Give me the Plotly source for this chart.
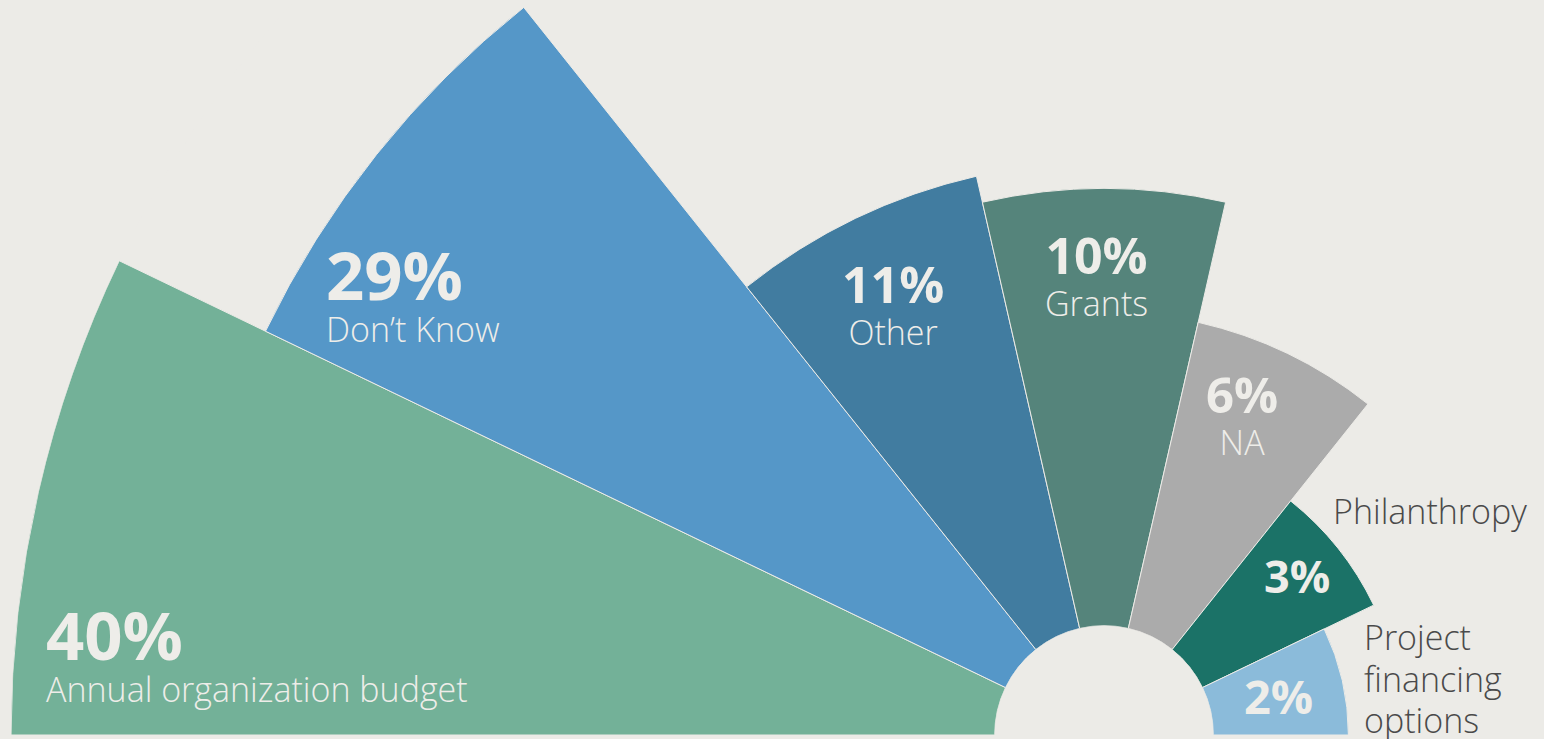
import numpy as np
import plotly.graph_objects as go

# Data
categories = ['Annual organization budget', 'Don’t Know', 'Other', 'Grants', 'NA',
              'Philanthropy', 'Project financing options']
shares = [40, 29, 11, 10, 6, 3, 2]
pct_labels = ['40%', '29%', '11%', '10%', '6%', '3%', '2%']
colors = ['#73B198', '#5597C8', '#417CA0', '#55847B', '#ABABAB', '#1B7267', '#8BBBDA']

bg = '#ECEBE7'
light = '#EEEDE9'
dark = '#4A4A4A'

# area-proportional wedges: radius ~ sqrt(share)
r_vals = np.sqrt(shares)
r_max = float(r_vals.max())
hole = 0.1

# figure is bigger than the window; the page is shifted so the centre sits at the bottom
R = 1093
ml, mr, mt, mb = 11, 0, 0, 4
W = ml + 2 * R + mr
H = mt + R + mb
shift = R - 735


def pos(x, y):
    # window pixels -> paper fractions
    return (x - ml) / (2 * R), 1 - (y + shift - mt) / R


fig = go.Figure()
fig.add_trace(go.Barpolar(
    r=r_vals,
    theta=categories,
    marker=dict(color=colors, line=dict(color=bg, width=1)),
    hoverinfo='skip',
))

fig.update_layout(
    width=W, height=H,
    margin=dict(l=ml, r=mr, t=mt, b=mb),
    paper_bgcolor=bg,
    showlegend=False,
    polar=dict(
        bgcolor=bg,
        sector=[0, 180],
        hole=hole,
        bargap=0,
        radialaxis=dict(range=[hole * r_max, r_max], visible=False, showgrid=False),
        angularaxis=dict(type='category', period=14, direction='clockwise',
                         rotation=180 - 180 / 14, visible=False, showgrid=False),
    ),
)


def pct(text, size):
    return "<span style='font-size:%dpx;font-weight:700'>%s</span>" % (size, text)


def lab(text, size=34):
    return "<span style='font-size:%dpx'>%s</span>" % (size, text)


base = dict(family='Open Sans', size=32, color=light, weight=300)

labels = [
    # text, x, bottom y, anchor, colour
    (pct(pct_labels[0], 67) + '<br>' + lab(categories[0]), 44, 714, 'left', light),
    (pct(pct_labels[1], 67) + '<br>' + lab(categories[1]), 324, 354, 'left', light),
    (pct(pct_labels[2], 50) + '<br>' + lab(categories[2]), 893, 357, 'center', light),
    (pct(pct_labels[3], 50) + '<br>' + lab(categories[3]), 1096, 328, 'center', light),
    (pct(pct_labels[4], 49) + '<br>' + lab(categories[4]), 1242, 467, 'center', light),
    (pct(pct_labels[5], 45), 1297, 608, 'center', light),
    (pct(pct_labels[6], 47), 1278, 730, 'center', light),
    (lab(categories[5]), 1331, 536, 'left', dark),
    (lab('Project') + '<br>' + lab('financing') + '<br>' + lab('options'), 1362, 745, 'left', dark),
]
for text, x, y, anchor, col in labels:
    px_, py_ = pos(x, y)
    fig.add_annotation(text=text, x=px_, y=py_, xref='paper', yref='paper',
                       xanchor=anchor, yanchor='bottom', align=anchor,
                       showarrow=False, font=dict(base, color=col))

post = (
    "var gd=document.getElementById('{plot_id}');"
    "document.documentElement.style.overflow='hidden';"
    "document.body.style.margin='0';"
    "document.body.style.overflow='hidden';"
    "document.body.style.background='" + bg + "';"
    "gd.style.marginTop='-" + str(shift) + "px';"
)
fig.write_html("out.html", post_script=post)
